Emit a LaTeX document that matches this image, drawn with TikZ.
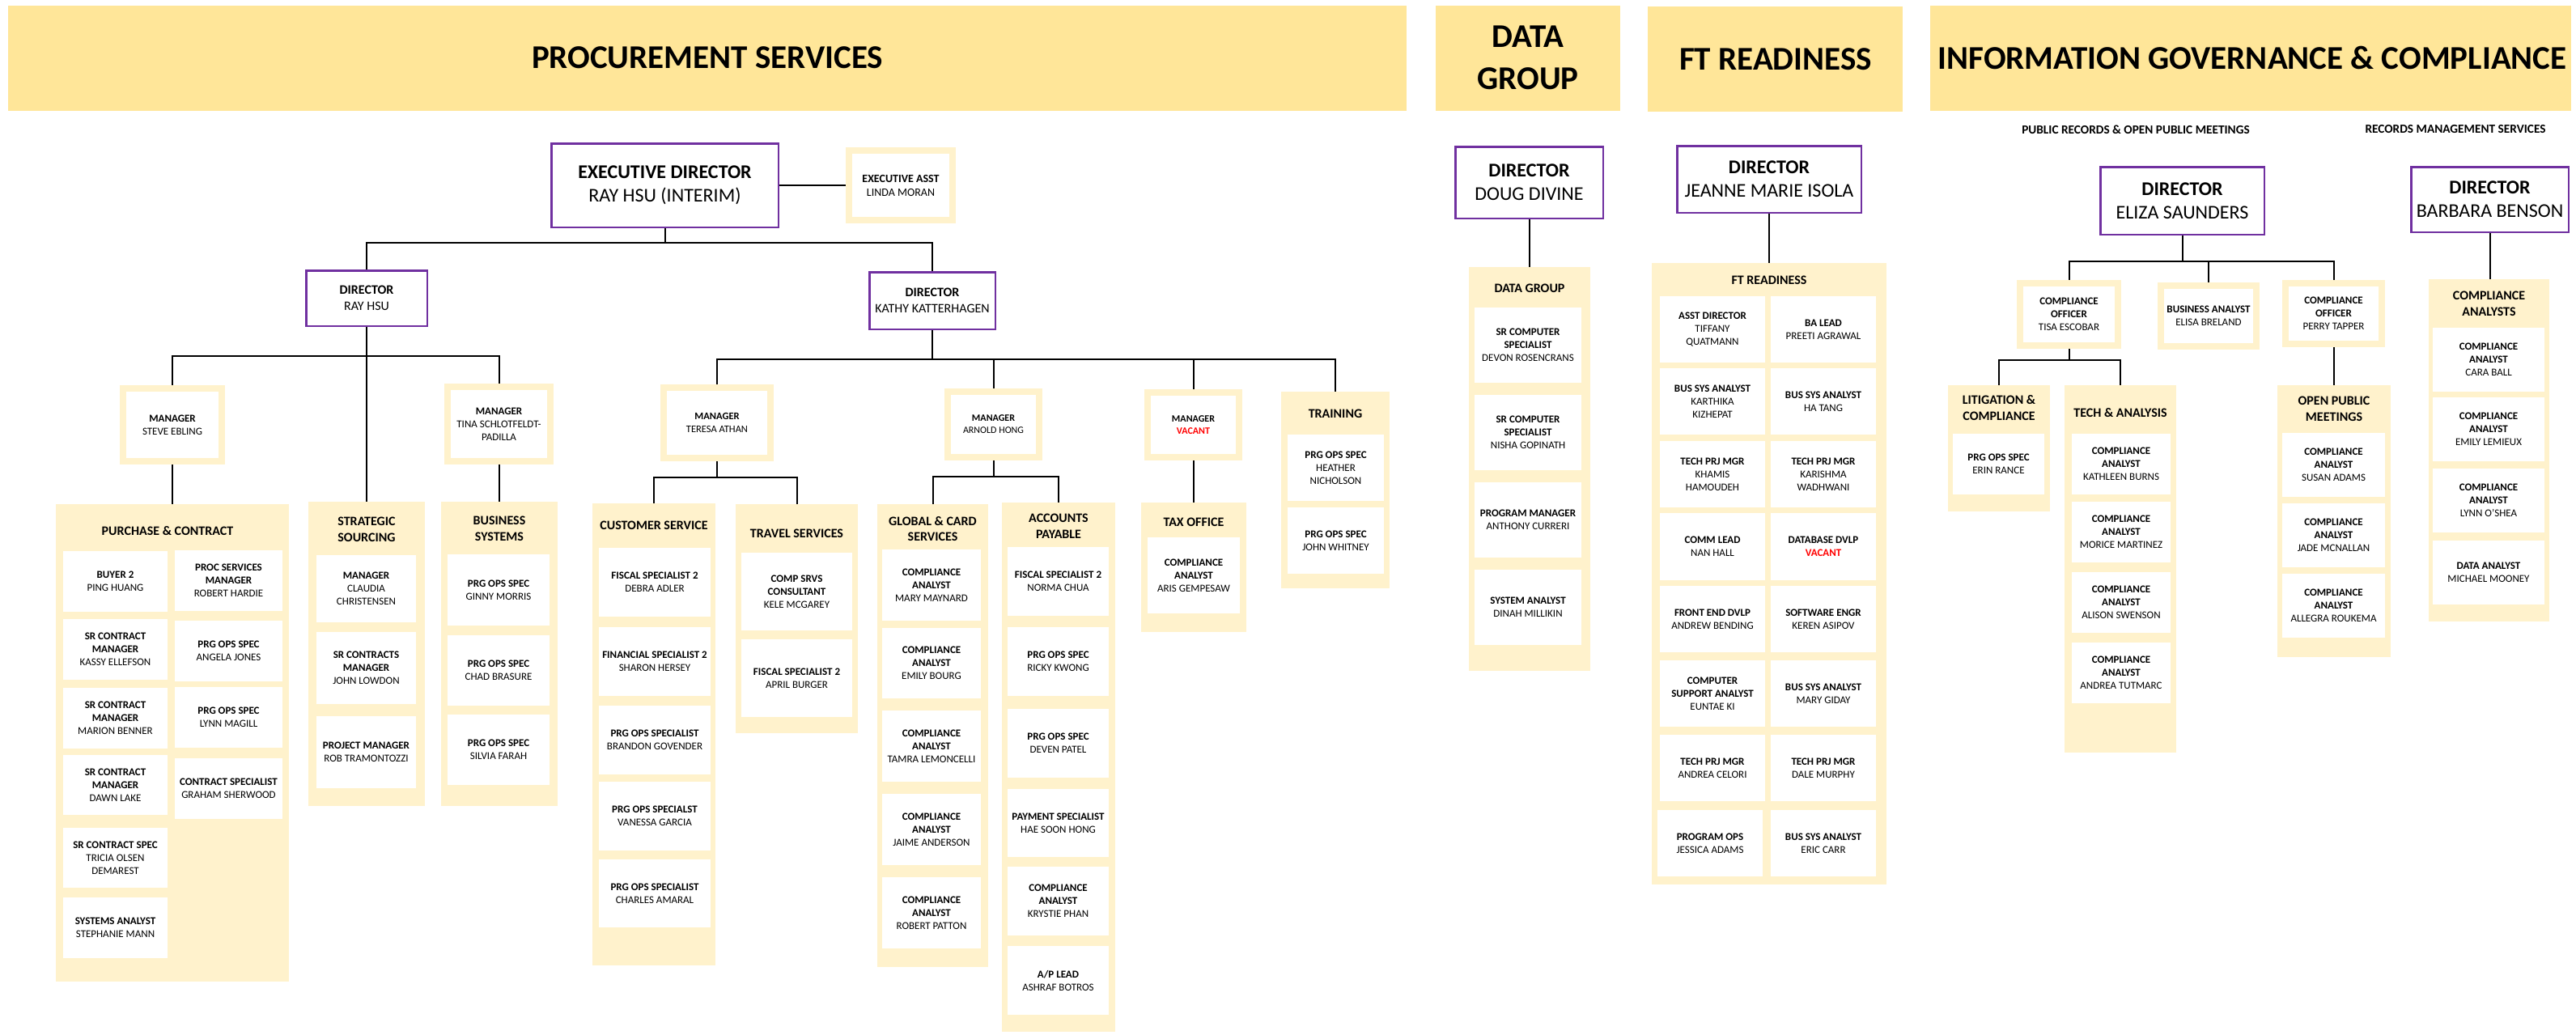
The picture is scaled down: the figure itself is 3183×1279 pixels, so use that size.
\documentclass[tikz,border=0pt]{standalone}
\usepackage{fontspec}
\setmainfont{Carlito}
\definecolor{hdr}{HTML}{FFE699}
\definecolor{paleY}{HTML}{FFF2CC}
\definecolor{dirP}{HTML}{7030A0}
\definecolor{vac}{HTML}{FF0000}
\tikzset{
 ib/.style={fill=white,inner sep=0pt,align=center,font=\fontsize{13}{16}\selectfont},
 ctn/.style={fill=paleY,inner sep=0pt},
 ttl/.style={inner sep=0pt,align=center,font=\bfseries\fontsize{16}{19.5}\selectfont},
 mgr/.style={fill=white,draw=paleY,line width=8pt,inner sep=0pt,align=center,font=\fontsize{13}{16}\selectfont},
 dirbox/.style={fill=white,draw=dirP,line width=2.5pt,inner sep=0pt,align=center},
 conn/.style={line width=2pt,black},
 hbar/.style={fill=hdr,inner sep=0pt},
 htxt/.style={inner sep=0pt,align=center,font=\bfseries\fontsize{41}{52}\selectfont},
 subt/.style={inner sep=0pt,font=\bfseries\fontsize{15.3}{17}\selectfont},
}
% generic box: style, name, x1, y1, x2, y2, text
\newcommand{\BX}[7]{\node[#1,minimum width={(#5)-(#3)},minimum height={(#6)-(#4)}] (#2) at ({((#3)+(#5))/2},{((#4)+(#6))/2}) {#7};}
% manager box with yellow frame: extra, name, x1, y1, x2, y2, text
\newcommand{\MG}[7]{\node[mgr,#1,minimum width={(#5)-(#3)-8},minimum height={(#6)-(#4)-8}] (#2) at ({((#3)+(#5))/2},{((#4)+(#6))/2}) {#7};}
% director box: extra, name, x1, y1, x2, y2, text
\newcommand{\DR}[7]{\node[dirbox,#1,minimum width={(#5)-(#3)-2.5},minimum height={(#6)-(#4)-2.5}] (#2) at ({((#3)+(#5))/2},{((#4)+(#6))/2}) {#7};}
\newcommand{\CA}[1]{\textbf{COMPLIANCE}\\\textbf{ANALYST}\\#1}
\begin{document}
\begin{tikzpicture}[x=1pt,y=-1pt]
\useasboundingbox (0,0) rectangle (3183,1279);
% ---------------- header bars
\BX{hbar}{hps}{10}{7}{1738}{137}{}
\BX{hbar}{hdg}{1774}{7}{2002}{137}{}
\BX{hbar}{hft}{2036}{8}{2351}{138}{}
\BX{hbar}{hig}{2385}{7}{3177}{137}{}
\node[htxt] (hpst) at (874,71) {PROCUREMENT SERVICES};
\node[htxt] (hdgt) at (1888,71) {DATA\\GROUP};
\node[htxt] (hftt) at (2194,73) {FT READINESS};
\node[htxt] (higt) at (2783,71) {INFORMATION GOVERNANCE \& COMPLIANCE};
% ---------------- procurement top
\DR{font=\fontsize{24}{29}\selectfont}{exec}{680}{176}{963}{282}{\textbf{EXECUTIVE DIRECTOR}\\RAY HSU (INTERIM)}
\MG{font=\fontsize{14}{17}\selectfont}{easst}{1045}{182}{1181}{276}{\textbf{EXECUTIVE ASST}\\LINDA MORAN}
\DR{font=\fontsize{16}{20}\selectfont}{ray}{377}{333}{529}{404}{\textbf{DIRECTOR}\\RAY HSU}
\DR{font=\fontsize{16}{20}\selectfont}{kathy}{1073}{335}{1231}{408}{\textbf{DIRECTOR}\\KATHY KATTERHAGEN}
\MG{}{steve}{148}{476}{278}{574}{\textbf{MANAGER}\\STEVE EBLING}
\MG{}{tina}{549}{474}{684}{574}{\textbf{MANAGER}\\TINA SCHLOTFELDT-\\PADILLA}
\MG{font=\fontsize{12.5}{15.5}\selectfont}{teresa}{816}{475}{956}{570}{\textbf{MANAGER}\\TERESA ATHAN}
\MG{font=\fontsize{12}{15}\selectfont}{arnold}{1167}{480}{1288}{569}{\textbf{MANAGER}\\ARNOLD HONG}
\MG{font=\fontsize{12}{15}\selectfont}{vacant}{1414}{481}{1535}{569}{\textbf{MANAGER}\\\textcolor{vac}{\textbf{VACANT}}}
% ---------------- purchase & contract
\BX{ctn}{pcc}{69}{623}{357}{1213}{}
\node[ttl] (pct) at (207,656) {PURCHASE \& CONTRACT};
\BX{ib}{pc1}{78}{681}{207}{756}{\textbf{BUYER 2}\\PING HUANG}
\BX{ib}{pc2}{78}{765}{207}{840}{\textbf{SR CONTRACT}\\\textbf{MANAGER}\\KASSY ELLEFSON}
\BX{ib}{pc3}{78}{850}{207}{925}{\textbf{SR CONTRACT}\\\textbf{MANAGER}\\MARION BENNER}
\BX{ib}{pc4}{78}{933}{207}{1007}{\textbf{SR CONTRACT}\\\textbf{MANAGER}\\DAWN LAKE}
\BX{ib}{pc5}{78}{1023}{207}{1097}{\textbf{SR CONTRACT SPEC}\\TRICIA OLSEN\\DEMAREST}
\BX{ib}{pc6}{78}{1109}{207}{1184}{\textbf{SYSTEMS ANALYST}\\STEPHANIE MANN}
\BX{ib}{pc7}{216}{680}{349}{755}{\textbf{PROC SERVICES}\\\textbf{MANAGER}\\ROBERT HARDIE}
\BX{ib}{pc8}{216}{767}{349}{842}{\textbf{PRG OPS SPEC}\\ANGELA JONES}
\BX{ib}{pc9}{216}{849}{349}{924}{\textbf{PRG OPS SPEC}\\LYNN MAGILL}
\BX{ib}{pc10}{216}{937}{349}{1012}{\textbf{CONTRACT SPECIALIST}\\GRAHAM SHERWOOD}
% ---------------- strategic sourcing
\BX{ctn}{ssc}{381}{620}{525}{996}{}
\node[ttl] (sst) at (453,654.5) {STRATEGIC\\SOURCING};
\BX{ib}{ss1}{391}{686}{514}{769}{\textbf{MANAGER}\\CLAUDIA\\CHRISTENSEN}
\BX{ib}{ss2}{391}{781}{514}{870}{\textbf{SR CONTRACTS}\\\textbf{MANAGER}\\JOHN LOWDON}
\BX{ib}{ss3}{391}{885}{514}{974}{\textbf{PROJECT MANAGER}\\ROB TRAMONTOZZI}
% ---------------- business systems
\BX{ctn}{bsc}{545}{620}{689}{996}{}
\node[ttl] (bst) at (617,653.5) {BUSINESS\\SYSTEMS};
\BX{ib}{bs1}{553}{685}{679}{773}{\textbf{PRG OPS SPEC}\\GINNY MORRIS}
\BX{ib}{bs2}{553}{785}{679}{872}{\textbf{PRG OPS SPEC}\\CHAD BRASURE}
\BX{ib}{bs3}{553}{883}{679}{970}{\textbf{PRG OPS SPEC}\\SILVIA FARAH}
% ---------------- customer service
\BX{ctn}{csc}{732}{622}{884}{1193}{}
\node[ttl] (cst) at (808,649) {CUSTOMER SERVICE};
\BX{ib}{cs1}{740}{677}{878}{762}{\textbf{FISCAL SPECIALIST 2}\\DEBRA ADLER}
\BX{ib}{cs2}{740}{775}{878}{860}{\textbf{FINANCIAL SPECIALIST 2}\\SHARON HERSEY}
\BX{ib}{cs3}{740}{872}{878}{957}{\textbf{PRG OPS SPECIALIST}\\BRANDON GOVENDER}
\BX{ib}{cs4}{740}{966}{878}{1051}{\textbf{PRG OPS SPECIALST}\\VANESSA GARCIA}
\BX{ib}{cs5}{740}{1062}{878}{1146}{\textbf{PRG OPS SPECIALIST}\\CHARLES AMARAL}
% ---------------- travel services
\BX{ctn}{tvc}{909}{623}{1060}{906}{}
\node[ttl] (tvt) at (984.5,659) {TRAVEL SERVICES};
\BX{ib}{tv1}{916}{683}{1053}{779}{\textbf{COMP SRVS}\\\textbf{CONSULTANT}\\KELE MCGAREY}
\BX{ib}{tv2}{916}{790}{1053}{886}{\textbf{FISCAL SPECIALIST 2}\\APRIL BURGER}
% ---------------- global & card
\BX{ctn}{gcc}{1084}{623}{1221}{1195}{}
\node[ttl] (gct) at (1152.5,653.5) {GLOBAL \& CARD\\SERVICES};
\BX{ib}{gc1}{1090}{679}{1212}{767}{\CA{MARY MAYNARD}}
\BX{ib}{gc2}{1090}{776}{1212}{863}{\CA{EMILY BOURG}}
\BX{ib}{gc3}{1090}{878}{1212}{966}{\CA{TAMRA LEMONCELLI}}
\BX{ib}{gc4}{1090}{981}{1212}{1069}{\CA{JAIME ANDERSON}}
\BX{ib}{gc5}{1090}{1084}{1212}{1172}{\CA{ROBERT PATTON}}
% ---------------- accounts payable
\BX{ctn}{apc}{1238}{621}{1378}{1275}{}
\node[ttl] (apt) at (1308,650) {ACCOUNTS\\PAYABLE};
\BX{ib}{ap1}{1245}{676}{1370}{761}{\textbf{FISCAL SPECIALIST 2}\\NORMA CHUA}
\BX{ib}{ap2}{1245}{775}{1370}{860}{\textbf{PRG OPS SPEC}\\RICKY KWONG}
\BX{ib}{ap3}{1245}{876}{1370}{961}{\textbf{PRG OPS SPEC}\\DEVEN PATEL}
\BX{ib}{ap4}{1245}{975}{1370}{1059}{\textbf{PAYMENT SPECIALIST}\\HAE SOON HONG}
\BX{ib}{ap5}{1245}{1071}{1370}{1156}{\CA{KRYSTIE PHAN}}
\BX{ib}{ap6}{1245}{1169}{1370}{1254}{\textbf{A/P LEAD}\\ASHRAF BOTROS}
% ---------------- tax office
\BX{ctn}{txc}{1410}{621}{1540}{781}{}
\node[ttl] (taxt) at (1475,645) {TAX OFFICE};
\BX{ib}{tx1}{1418}{664}{1532}{758}{\CA{ARIS GEMPESAW}}
% ---------------- training
\BX{ctn}{trc}{1583}{484}{1717}{727}{}
\node[ttl] (trt) at (1650,511) {TRAINING};
\BX{ib}{tr1}{1591}{537}{1710}{619}{\textbf{PRG OPS SPEC}\\HEATHER\\NICHOLSON}
\BX{ib}{tr2}{1591}{627}{1710}{709}{\textbf{PRG OPS SPEC}\\JOHN WHITNEY}
% ---------------- data group
\DR{font=\fontsize{24}{29}\selectfont}{doug}{1797}{180}{1982}{271}{\textbf{DIRECTOR}\\DOUG DIVINE}
\BX{ctn}{dgc}{1815}{330}{1965}{829}{}
\node[ttl] (dgt) at (1890,356) {DATA GROUP};
\BX{ib}{dg1}{1822}{380}{1954}{473}{\textbf{SR COMPUTER}\\\textbf{SPECIALIST}\\DEVON ROSENCRANS}
\BX{ib}{dg2}{1822}{488}{1954}{581}{\textbf{SR COMPUTER}\\\textbf{SPECIALIST}\\NISHA GOPINATH}
\BX{ib}{dg3}{1822}{596}{1954}{689}{\textbf{PROGRAM MANAGER}\\ANTHONY CURRERI}
\BX{ib}{dg4}{1822}{704}{1954}{797}{\textbf{SYSTEM ANALYST}\\DINAH MILLIKIN}
% ---------------- FT readiness
\DR{font=\fontsize{24}{29}\selectfont}{jeanne}{2071}{179}{2301}{264}{\textbf{DIRECTOR}\\JEANNE MARIE ISOLA}
\BX{ctn}{ftc}{2041}{325}{2331}{1093}{}
\node[ttl] (ftt) at (2186,346) {FT READINESS};
\BX{ib}{ft1}{2051}{366}{2181}{448}{\textbf{ASST DIRECTOR}\\TIFFANY\\QUATMANN}
\BX{ib}{ft2}{2188}{366}{2318}{448}{\textbf{BA LEAD}\\PREETI AGRAWAL}
\BX{ib}{ft3}{2051}{455}{2181}{537}{\textbf{BUS SYS ANALYST}\\KARTHIKA\\KIZHEPAT}
\BX{ib}{ft4}{2188}{455}{2318}{537}{\textbf{BUS SYS ANALYST}\\HA TANG}
\BX{ib}{ft5}{2051}{545}{2181}{627}{\textbf{TECH PRJ MGR}\\KHAMIS\\HAMOUDEH}
\BX{ib}{ft6}{2188}{545}{2318}{627}{\textbf{TECH PRJ MGR}\\KARISHMA\\WADHWANI}
\BX{ib}{ft7}{2051}{634}{2181}{717}{\textbf{COMM LEAD}\\NAN HALL}
\BX{ib}{ft8}{2188}{634}{2318}{717}{\textbf{DATABASE DVLP}\\\textcolor{vac}{\textbf{VACANT}}}
\BX{ib}{ft9}{2051}{724}{2181}{806}{\textbf{FRONT END DVLP}\\ANDREW BENDING}
\BX{ib}{ft10}{2188}{724}{2318}{806}{\textbf{SOFTWARE ENGR}\\KEREN ASIPOV}
\BX{ib}{ft11}{2051}{816}{2181}{898}{\textbf{COMPUTER}\\\textbf{SUPPORT ANALYST}\\EUNTAE KI}
\BX{ib}{ft12}{2188}{816}{2318}{898}{\textbf{BUS SYS ANALYST}\\MARY GIDAY}
\BX{ib}{ft13}{2051}{908}{2181}{990}{\textbf{TECH PRJ MGR}\\ANDREA CELORI}
\BX{ib}{ft14}{2188}{908}{2318}{990}{\textbf{TECH PRJ MGR}\\DALE MURPHY}
\BX{ib}{ft15}{2048}{1001}{2178}{1083}{\textbf{PROGRAM OPS}\\JESSICA ADAMS}
\BX{ib}{ft16}{2188}{1001}{2318}{1083}{\textbf{BUS SYS ANALYST}\\ERIC CARR}
% ---------------- information governance
\node[subt] (sub1) at (2639,160) {PUBLIC RECORDS \& OPEN PUBLIC MEETINGS};
\node[subt] (sub2) at (3034,160) {RECORDS MANAGEMENT SERVICES};
\DR{font=\fontsize{24}{29}\selectfont}{eliza}{2594}{205}{2799}{291}{\textbf{DIRECTOR}\\ELIZA SAUNDERS}
\DR{font=\fontsize{24}{29}\selectfont}{barb}{2978}{205}{3175}{288}{\textbf{DIRECTOR}\\BARBARA BENSON}
\MG{}{tisa}{2492}{346}{2621}{431}{\textbf{COMPLIANCE}\\\textbf{OFFICER}\\TISA ESCOBAR}
\MG{}{elisa}{2666}{349}{2792}{432}{\textbf{BUSINESS ANALYST}\\ELISA BRELAND}
\MG{}{perry}{2820}{346}{2947}{429}{\textbf{COMPLIANCE}\\\textbf{OFFICER}\\PERRY TAPPER}
\BX{ctn}{litc}{2407}{476}{2533}{632}{}
\node[ttl] (litt) at (2470,504) {LITIGATION \&\\COMPLIANCE};
\BX{ib}{lit1}{2413}{536}{2526}{611}{\textbf{PRG OPS SPEC}\\ERIN RANCE}
\BX{ctn}{tac}{2551}{476}{2689}{930}{}
\node[ttl] (tat) at (2620,510) {TECH \& ANALYSIS};
\BX{ib}{ta1}{2560}{536}{2682}{611}{\CA{KATHLEEN BURNS}}
\BX{ib}{ta2}{2560}{620}{2682}{695}{\CA{MORICE MARTINEZ}}
\BX{ib}{ta3}{2560}{707}{2682}{782}{\CA{ALISON SWENSON}}
\BX{ib}{ta4}{2560}{794}{2682}{869}{\CA{ANDREA TUTMARC}}
\BX{ctn}{opc}{2814}{476}{2954}{812}{}
\node[ttl] (opt) at (2884,505.5) {OPEN PUBLIC\\MEETINGS};
\BX{ib}{op1}{2820}{535}{2947}{614}{\CA{SUSAN ADAMS}}
\BX{ib}{op2}{2820}{622}{2947}{701}{\CA{JADE MCNALLAN}}
\BX{ib}{op3}{2820}{709}{2947}{788}{\CA{ALLEGRA ROUKEMA}}
\BX{ctn}{cac}{3001}{345}{3150}{768}{}
\node[ttl] (cat) at (3075.5,375.5) {COMPLIANCE\\ANALYSTS};
\BX{ib}{ca1}{3006}{405}{3144}{484}{\CA{CARA BALL}}
\BX{ib}{ca2}{3006}{491}{3144}{570}{\CA{EMILY LEMIEUX}}
\BX{ib}{ca3}{3006}{579}{3144}{658}{\CA{LYNN O’SHEA}}
\BX{ib}{ca4}{3006}{668}{3144}{747}{\textbf{DATA ANALYST}\\MICHAEL MOONEY}
% ---------------- connectors
\draw[conn] (exec.south) -- ++(0,18) -| (ray.north);
\draw[conn] (exec.south) -- ++(0,18) -| (kathy.north);
\draw[conn] (exec.east) -- (easst.west);
\draw[conn] (ray.south) -- ++(0,36) -| (steve.north);
\draw[conn] (ray.south) -- ++(0,36) -| (tina.north);
\draw[conn] (ray.south) -- (ray.south |- ssc.north);
\draw[conn] (steve.south) -- (steve.south |- pcc.north);
\draw[conn] (tina.south) -- (tina.south |- bsc.north);
\draw[conn] (kathy.south) -- ++(0,36) -| (teresa.north);
\draw[conn] (kathy.south) -- ++(0,36) -| (arnold.north);
\draw[conn] (kathy.south) -- ++(0,36) -| (vacant.north);
\draw[conn] (kathy.south) -- ++(0,36) -| (trc.north);
\draw[conn] (teresa.south) -- ++(0,20) -| (csc.north);
\draw[conn] (teresa.south) -- ++(0,20) -| (tvc.north);
\draw[conn] (arnold.south) -- ++(0,20) -| (gcc.north);
\draw[conn] (arnold.south) -- ++(0,20) -| (apc.north);
\draw[conn] (vacant.south) -- (vacant.south |- txc.north);
\draw[conn] (doug.south) -- (doug.south |- dgc.north);
\draw[conn] (jeanne.south) -- (jeanne.south |- ftc.north);
\draw[conn] (eliza.south) -- ++(0,32) -| (tisa.north);
\draw[conn] (eliza.south) -- ++(0,32) -| (elisa.north);
\draw[conn] (eliza.south) -- ++(0,32) -| (perry.north);
\draw[conn] (tisa.south) -- ++(0,14) -| (litc.north);
\draw[conn] (tisa.south) -- ++(0,14) -| (tac.north);
\draw[conn] (perry.south) -- (perry.south |- opc.north);
\draw[conn] (barb.south) -- (barb.south |- cac.north);
\end{tikzpicture}
\end{document}
